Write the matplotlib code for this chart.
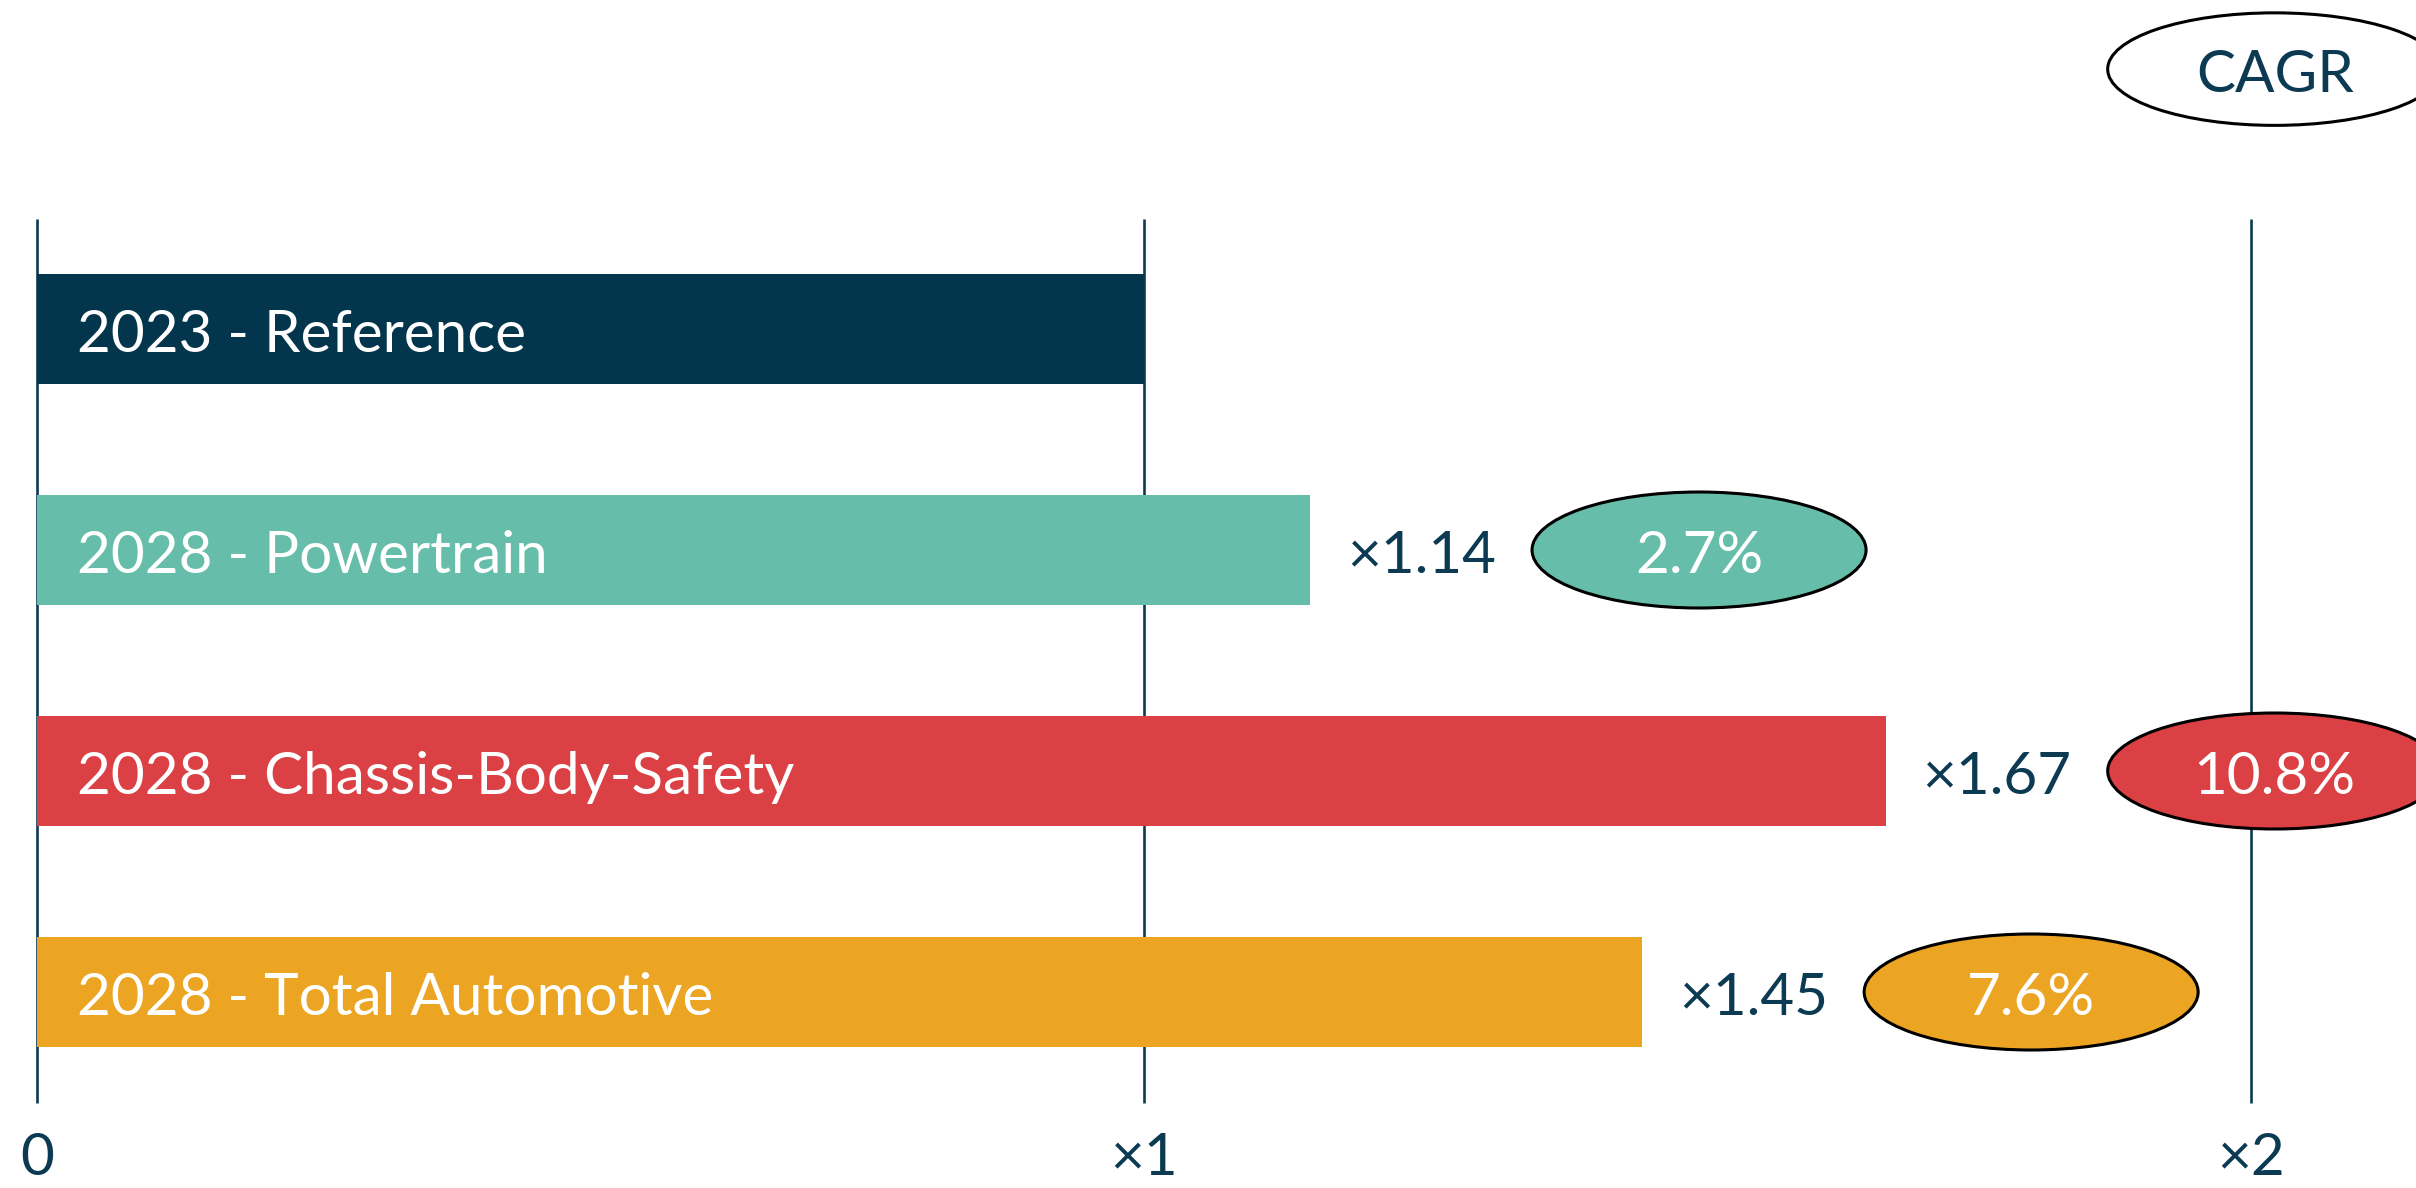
import matplotlib
matplotlib.use("Agg")
import matplotlib.pyplot as plt
from matplotlib.patches import Ellipse

plt.rcParams['font.family'] = ['Lato', 'DejaVu Sans']

categories = ["2023 - Reference", "2028 - Powertrain", "2028 - Chassis-Body-Safety", "2028 - Total Automotive"]
values = [1.0, 1.15, 1.67, 1.45]
multiplier_labels = [None, "×1.14", "×1.67", "×1.45"]
cagr_labels = [None, "2.7%", "10.8%", "7.6%"]
tick_values = [0, 1, 2]
tick_labels = ["0", "×1", "×2"]
colors = ["#03354C", "#66BDAA", "#DB4144", "#ECA423"]

NAVY = "#0B3A52"

W, H = 2416, 1188
fig = plt.figure(figsize=(W / 100, H / 100), dpi=100)
ax = fig.add_axes([0, 0, 1, 1])
ax.set_axis_off()

px_per_unit = 1107.0
x0_px = 37.0
ax.set_xlim(-x0_px / px_per_unit, (W - x0_px) / px_per_unit)
row_px = 221.0
first_px = 329.0
ax.set_ylim((H - first_px) / row_px, -first_px / row_px)

FS = 42

# vertical reference lines
for t in tick_values:
    ax.plot([t, t], [-0.5, 3.5], color=NAVY, lw=1.9, zorder=1, solid_capstyle='butt')
    ax.text(t, 3.755, tick_labels[t], ha='center', va='center', fontsize=FS, color=NAVY)

ys = list(range(len(categories)))
ax.barh(ys, values, height=0.495, color=colors, zorder=2)

ell_w = 334 / px_per_unit
ell_h = 116 / row_px
ell_off = 389 / px_per_unit
lab_off = 37 / px_per_unit
dy = 0.03

ell_centers = []
for i, (cat, v) in enumerate(zip(categories, values)):
    ax.text(0.036, i + dy, cat, ha='left', va='center', fontsize=FS, color='white', zorder=3)
    if multiplier_labels[i]:
        ax.text(v + lab_off, i + dy, multiplier_labels[i], ha='left', va='center',
                fontsize=FS, color=NAVY, zorder=3)
        cx = v + ell_off
        ell_centers.append(cx)
        e = Ellipse((cx, i), ell_w, ell_h, facecolor=colors[i], edgecolor='black', lw=2.2, zorder=4)
        ax.add_patch(e)
        ax.text(cx, i + dy, cagr_labels[i], ha='center', va='center', fontsize=FS,
                color='white', zorder=5)

# CAGR header ellipse
cx = max(ell_centers)
cy = -1.176
ax.add_patch(Ellipse((cx, cy), ell_w, ell_h * 0.97, facecolor='white', edgecolor='black', lw=2.2, zorder=4))
ax.text(cx, cy + dy, "CAGR", ha='center', va='center', fontsize=FS, color=NAVY, zorder=5)

fig.savefig("out.png", dpi=100)
